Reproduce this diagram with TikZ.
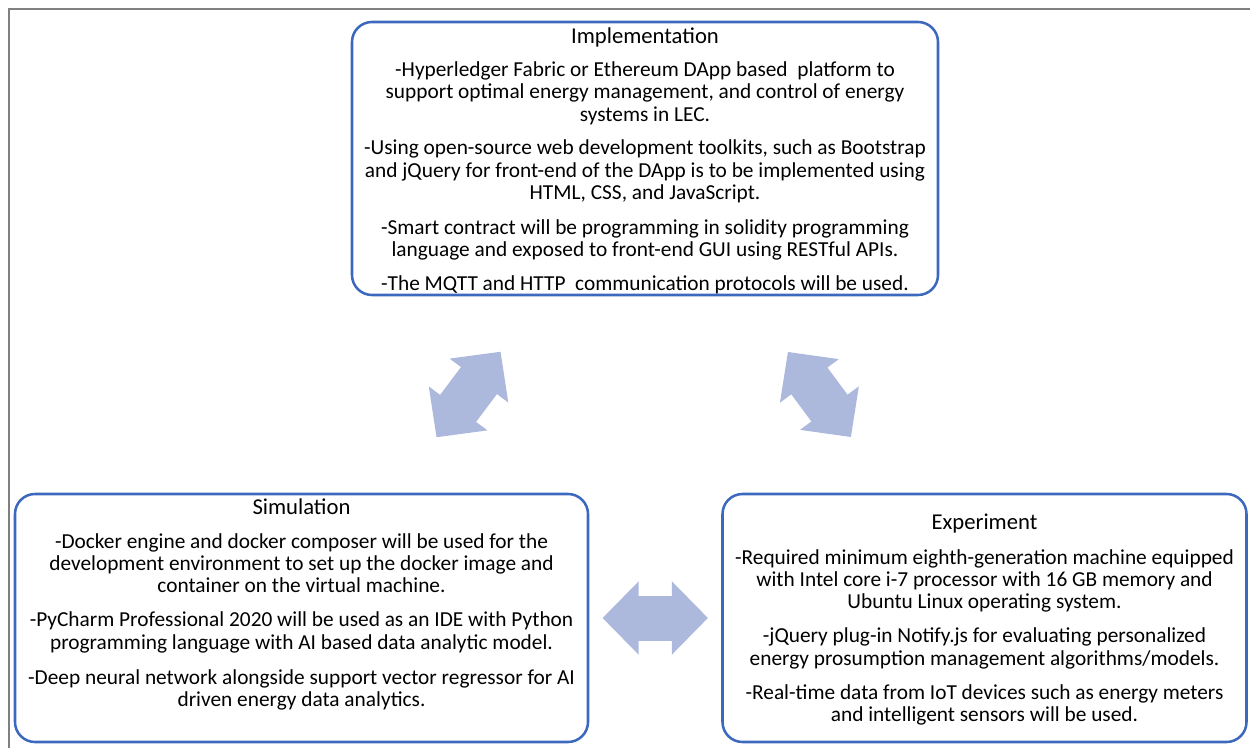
\documentclass[tikz,border=0pt]{standalone}
\usepackage{fontspec}
\setmainfont{Carlito}
\usetikzlibrary{arrows.meta}

\definecolor{boxblue}{HTML}{3C69BE}
\definecolor{arrowblue}{HTML}{ADB9DC}
\definecolor{framegray}{HTML}{808080}

\tikzset{
    box/.style={draw=boxblue, line width=1.9pt, rounded corners=15pt, inner sep=0pt},
    boxtext/.style={anchor=north, align=center, inner sep=0pt, font=\fontsize{16}{16.7}\selectfont},
    blocktip/.tip={Triangle[length=27pt, width=54.75pt, line width=1pt]},
    link/.style={arrowblue, line width=33.75pt, blocktip-blocktip, shorten <=#1, shorten >=#1}
}
\newcommand{\boxtitle}[1]{{\fontsize{17}{19}\selectfont #1}}

\begin{document}
\begin{tikzpicture}[x=0.75pt, y=-0.75pt]
    \useasboundingbox (0,0) rectangle (1250,748);
    \draw[framegray, line width=1.5pt] (9,748) -- (9,9) -- (1250,9);

    % the three boxes
    \node[box, minimum width=439.5pt, minimum height=204.75pt] (impl) at (645,158.5) {};
    \node[box, minimum width=429.75pt, minimum height=186pt] (sim) at (301.5,618) {};
    \node[box, minimum width=393pt, minimum height=186pt] (exp) at (984.5,618) {};

    \node[boxtext] (impltext) at (645,27) {\boxtitle{Implementation}\\[8.5pt]
        -Hyperledger Fabric or Ethereum DApp based\ \ platform to\\
        support optimal energy management, and control of energy\\
        systems in LEC.\\[8.5pt]
        -Using open-source web development toolkits, such as Bootstrap\\
        and jQuery for front-end of the DApp is to be implemented using\\
        HTML, CSS, and JavaScript.\\[9.5pt]
        -Smart contract will be programming in solidity programming\\
        language and exposed to front-end GUI using RESTful APIs.\\[9pt]
        -The MQTT and HTTP\ \ communication protocols will be used.};

    \node[boxtext] (simtext) at (301.5,498.5) {\boxtitle{Simulation}\\[8.5pt]
        -Docker engine and docker composer will be used for the\\
        development environment to set up the docker image and\\
        container on the virtual machine.\\[9pt]
        -PyCharm Professional 2020 will be used as an IDE with Python\\
        programming language with AI based data analytic model.\\[9.5pt]
        -Deep neural network alongside support vector regressor for AI\\
        driven energy data analytics.};

    \node[boxtext] (exptext) at (984.5,514) {\boxtitle{Experiment}\\[9pt]
        -Required minimum eighth-generation machine equipped\\
        with Intel core i-7 processor with 16 GB memory and\\
        Ubuntu Linux operating system.\\[9pt]
        -jQuery plug-in Notify.js for evaluating personalized\\
        energy prosumption management algorithms/models.\\[9pt]
        -Real-time data from IoT devices such as energy meters\\
        and intelligent sensors will be used.};

    % block arrows between the boxes
    \draw[link=52pt] (sim) -- (impl);
    \draw[link=52pt] (exp) -- (impl);
    \draw[link=10pt] (sim) -- (exp);
\end{tikzpicture}
\end{document}
